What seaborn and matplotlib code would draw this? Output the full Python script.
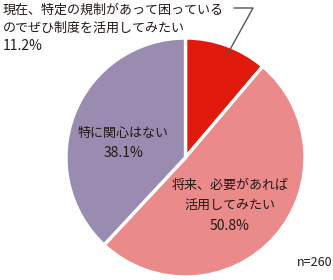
import matplotlib
matplotlib.use("Agg")
import matplotlib.pyplot as plt
import seaborn as sns
from matplotlib.lines import Line2D

labels = ["現在、特定の規制があって困っている\nのでぜひ制度を活用してみたい",
          "将来、必要があれば\n活用してみたい",
          "特に関心はない"]
values = [11.2, 50.8, 38.1]
colors = ["#E01A0C", "#EA8A8A", "#9A8BB1"]
note = "n=260"

sns.set_theme(style="white")
plt.rcParams['font.family'] = ['Noto Sans CJK JP', 'DejaVu Sans']

W, H = 333, 280
fig = plt.figure(figsize=(W/100, H/100), dpi=100)
fig.patch.set_facecolor("white")

cx, cy, r = 185.5, 157.5, 119.5
ax = fig.add_axes([(cx - r)/W, (H - cy - r)/H, 2*r/W, 2*r/H])
ax.pie(values, colors=colors, startangle=90, counterclock=False,
       wedgeprops=dict(edgecolor="white", linewidth=2.4))
ax.set_xlim(-1, 1); ax.set_ylim(-1, 1)
ax.set_aspect("auto")
ax.axis("off")

def px(x, y):
    return x/W, 1 - y/H

fs = 9.4
fsn = 10
tc = "#231815"
# top-left label
fig.text(*px(3, 10), "現在、特定の規制があって困っている", fontsize=fs, color=tc, ha="left", va="center")
fig.text(*px(3, 28), "のでぜひ制度を活用してみたい", fontsize=fs, color=tc, ha="left", va="center")
fig.text(*px(3, 46), f"{values[0]}%", fontsize=fsn, color=tc, ha="left", va="center")

# leader line
x0, y0 = px(234, 8)
x1, y1 = px(253, 8)
x2, y2 = px(227, 55)
fig.add_artist(Line2D([x0, x1, x2], [y0, y1, y2], color="#555555", linewidth=1.0,
                      transform=fig.transFigure))

# purple label
fig.text(*px(123, 133), "特に関心はない", fontsize=fs, color=tc, ha="center", va="center")
fig.text(*px(123, 153), f"{values[2]}%", fontsize=fsn, color=tc, ha="center", va="center")

# pink label
fig.text(*px(230, 185), "将来、必要があれば", fontsize=fs, color=tc, ha="center", va="center")
fig.text(*px(230, 205), "活用してみたい", fontsize=fs, color=tc, ha="center", va="center")
fig.text(*px(230, 226), f"{values[1]}%", fontsize=fsn, color=tc, ha="center", va="center")

fig.text(*px(315, 262), note, fontsize=9, color=tc, ha="center", va="center")

fig.savefig("out.png", dpi=100, facecolor="white")
